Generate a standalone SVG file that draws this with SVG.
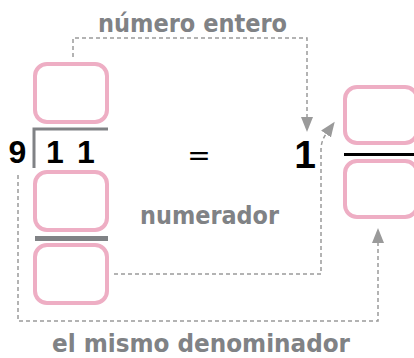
<svg xmlns="http://www.w3.org/2000/svg" width="414" height="358" viewBox="0 0 414 358">
<style>
.box{fill:#fff;stroke:#EEAEC4;stroke-width:4}
.lbl{font-family:"DejaVu Sans",sans-serif;font-weight:bold;font-size:24px;fill:#808285}
.num{font-family:"Liberation Sans",Arial,sans-serif;font-weight:bold;fill:#000}
.dash{fill:none;stroke:#9a9a9a;stroke-width:1.5;stroke-dasharray:4 3}
</style>
<defs>
<marker id="ah" markerUnits="userSpaceOnUse" markerWidth="16" markerHeight="13" refX="0" refY="6" orient="auto" viewBox="0 0 16 12">
<path d="M0,0 L15,6 L0,12 z" fill="#9a9a9a"/>
</marker>
</defs>
<rect width="414" height="358" fill="#fff"/>
<g id="connectors">
<path class="dash" d="M73 57 V38 H307 V117" marker-end="url(#ah)"/>
<path class="dash" d="M114 274 H321 V150 Q321 141 326 134" marker-end="url(#ah)"/>
<path class="dash" d="M18 175 V321 H378 V243" marker-end="url(#ah)"/>
</g>
<g id="box-cociente"><rect class="box" x="35" y="64" width="72" height="58" rx="12"/></g>
<g id="division">
<path d="M34 168 V129 H108" fill="none" stroke="#808285" stroke-width="3"/>
<text class="num" x="17.5" y="163" font-size="32" text-anchor="middle">9</text>
<text class="num" x="55" y="163" font-size="32" text-anchor="middle">1</text>
<text class="num" x="86" y="163" font-size="32" text-anchor="middle">1</text>
</g>
<g id="box-resta"><rect class="box" x="35" y="172" width="72" height="58" rx="12"/></g>
<g id="barra"><rect x="35" y="236" width="73" height="5" fill="#808285"/></g>
<g id="box-residuo"><rect class="box" x="35" y="245" width="72" height="58" rx="12"/></g>
<g id="igual"><text x="199" y="165" font-family="DejaVu Sans,sans-serif" font-size="28" text-anchor="middle" fill="#000">=</text></g>
<g id="entero"><text class="num" x="305" y="168" font-size="39" text-anchor="middle">1</text></g>
<g id="box-numerador"><rect class="box" x="345" y="87" width="72" height="56" rx="12"/></g>
<g id="linea-fraccion"><line x1="344" y1="154.5" x2="414" y2="154.5" stroke="#000" stroke-width="3"/></g>
<g id="box-denominador"><rect class="box" x="345" y="161" width="72" height="56" rx="12"/></g>
<g id="labels">
<text class="lbl" x="98" y="32" textLength="189" lengthAdjust="spacingAndGlyphs">número entero</text>
<text class="lbl" x="140" y="224" textLength="139" lengthAdjust="spacingAndGlyphs">numerador</text>
<text class="lbl" x="52" y="352" textLength="298" lengthAdjust="spacingAndGlyphs">el mismo denominador</text>
</g>
</svg>
